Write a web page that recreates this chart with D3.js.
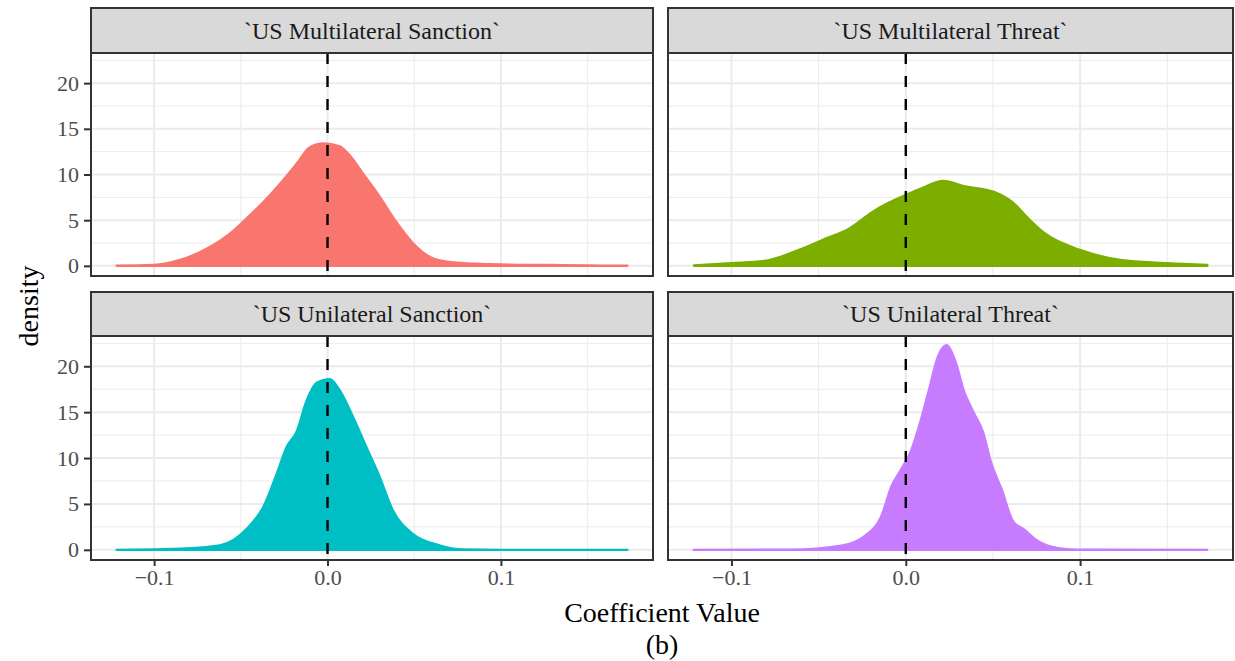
<!DOCTYPE html>
<html>
<head>
<meta charset="utf-8">
<script src="https://cdn.jsdelivr.net/npm/d3@7"></script>
<style>
  body { margin: 0; background: #fff; }
  svg text { font-family: "Liberation Serif", "Times New Roman", serif; }
</style>
</head>
<body>
<svg id="chart" width="1235" height="661"></svg>
<script>
// panel names, in facet order
const panels = ["`US Multilateral Sanction`", "`US Multilateral Threat`",
                "`US Unilateral Sanction`", "`US Unilateral Threat`"];
const fills = ["#F8766D", "#7CAE00", "#00BFC4", "#C77CFF"];

// density curves (coefficient value, density)
const msX = [-0.1217, -0.10, -0.085, -0.0695, -0.054, -0.045, -0.037, -0.0274, -0.0178, -0.0102, -0.0025, 0.007, 0.0128, 0.0205, 0.030, 0.0397, 0.0492, 0.0607, 0.074, 0.0933, 0.11, 0.13, 0.15, 0.173];
const msY = [0.02, 0.1, 0.65, 1.9, 3.9, 5.5, 7.0, 9.0, 11.2, 13.0, 13.4, 13.1, 12.1, 10.1, 7.6, 4.8, 2.5, 0.84, 0.36, 0.2, 0.12, 0.1, 0.05, 0.02];

const mtX = [-0.1215, -0.10, -0.080, -0.062, -0.047, -0.0323, -0.020, -0.010, 0.0, 0.009, 0.0215, 0.034, 0.0505, 0.061, 0.0713, 0.0795, 0.10, 0.123, 0.15, 0.173];
const mtY = [0.05, 0.3, 0.58, 1.7, 2.9, 4.1, 5.8, 6.9, 7.76, 8.5, 9.3, 8.7, 8.1, 7.0, 5.0, 3.6, 1.75, 0.66, 0.3, 0.1];

const usX = [-0.1217, -0.085, -0.062, -0.0466, -0.037, -0.0293, -0.0236, -0.0178, -0.012, -0.0063, 0.0013, 0.007, 0.0147, 0.0224, 0.030, 0.0377, 0.049, 0.0645, 0.078, 0.10, 0.173];
const usY = [0, 0.13, 0.5, 2.3, 4.7, 8.3, 11.2, 12.9, 16.3, 18.2, 18.6, 17.4, 14.5, 11.2, 8.0, 4.3, 1.77, 0.5, 0.05, 0, 0];

const utX = [-0.1217, -0.066, -0.037, -0.0237, -0.014, -0.0083, -0.0026, 0.0032, 0.007, 0.0128, 0.0185, 0.0233, 0.028, 0.0338, 0.0386, 0.0444, 0.049, 0.055, 0.0616, 0.068, 0.076, 0.0875, 0.097, 0.173];
const utY = [0, 0.02, 0.46, 1.5, 3.7, 6.9, 8.8, 10.9, 13.1, 17.1, 21.1, 22.3, 20.8, 17.1, 15.1, 12.8, 9.5, 6.6, 3.1, 2.2, 0.93, 0.18, 0.02, 0];

const xTicks = [-0.1, 0.0, 0.1];
const xMinor = [-0.05, 0.05, 0.15];
const yTicks = [0, 5, 10, 15, 20];
const yMinor = [2.5, 7.5, 12.5, 17.5, 22.5];
const refLine = 0;

const curves = [[msX, msY], [mtX, mtY], [usX, usY], [utX, utY]];

const svg = d3.select("#chart");

// layout
const cols = [[91, 653], [668, 1233]];
const rows = [{ strip: 8, top: 53, bottom: 276 }, { strip: 292, top: 336, bottom: 560 }];

const xDomain = [-0.1364, 0.1877];
const yDomain = [-1.11, 23.3];

panels.forEach((name, i) => {
    const c = cols[i % 2], r = rows[Math.floor(i / 2)];
    const x = d3.scaleLinear().domain(xDomain).range(c);
    const y = d3.scaleLinear().domain(yDomain).range([r.bottom, r.top]);
    const g = svg.append("g");

    // grid
    g.selectAll(".xmin").data(xMinor).join("line")
        .attr("x1", d => x(d)).attr("x2", d => x(d))
        .attr("y1", r.top).attr("y2", r.bottom)
        .attr("stroke", "#EBEBEB").attr("stroke-width", 1);
    g.selectAll(".ymin").data(yMinor).join("line")
        .attr("x1", c[0]).attr("x2", c[1])
        .attr("y1", d => y(d)).attr("y2", d => y(d))
        .attr("stroke", "#EBEBEB").attr("stroke-width", 1);
    g.selectAll(".xmaj").data(xTicks).join("line")
        .attr("x1", d => x(d)).attr("x2", d => x(d))
        .attr("y1", r.top).attr("y2", r.bottom)
        .attr("stroke", "#EBEBEB").attr("stroke-width", 2);
    g.selectAll(".ymaj").data(yTicks).join("line")
        .attr("x1", c[0]).attr("x2", c[1])
        .attr("y1", d => y(d)).attr("y2", d => y(d))
        .attr("stroke", "#EBEBEB").attr("stroke-width", 2);

    // density
    const pts = curves[i][0].map((v, k) => [v, curves[i][1][k]]);
    const area = d3.area()
        .x(d => x(d[0])).y0(y(0)).y1(d => y(d[1]))
        .curve(d3.curveMonotoneX);
    g.append("path").datum(pts)
        .attr("d", area)
        .attr("fill", fills[i])
        .attr("stroke", fills[i])
        .attr("stroke-width", 2.2)
        .attr("stroke-linejoin", "round")
        .attr("stroke-linecap", "round");

    // reference line
    g.append("line")
        .attr("x1", x(refLine)).attr("x2", x(refLine))
        .attr("y1", r.top).attr("y2", r.bottom)
        .attr("stroke", "#000").attr("stroke-width", 2.4)
        .attr("stroke-dasharray", "11,12");

    // border
    g.append("rect")
        .attr("x", c[0]).attr("y", r.top)
        .attr("width", c[1] - c[0]).attr("height", r.bottom - r.top)
        .attr("fill", "none").attr("stroke", "#333333").attr("stroke-width", 2);

    // strip
    g.append("rect")
        .attr("x", c[0]).attr("y", r.strip)
        .attr("width", c[1] - c[0]).attr("height", r.top - r.strip)
        .attr("fill", "#D9D9D9").attr("stroke", "#333333").attr("stroke-width", 2);
    g.append("text")
        .attr("x", (c[0] + c[1]) / 2).attr("y", (r.strip + r.top) / 2)
        .attr("text-anchor", "middle").attr("dominant-baseline", "central")
        .attr("fill", "#1A1A1A").style("font-size", "24px")
        .text(name);

    // y axis on left column
    if (i % 2 == 0) {
        const ya = g.append("g").attr("transform", "translate(" + c[0] + ",0)")
            .call(d3.axisLeft(y).tickValues(yTicks).tickSize(7).tickPadding(5).tickFormat(d3.format("d")));
        ya.select(".domain").remove();
        ya.selectAll("line").attr("stroke", "#333333").attr("stroke-width", 2);
        ya.selectAll("text").attr("fill", "#4D4D4D").style("font-size", "22px")
            .style("font-family", "Liberation Serif");
    }
    // x axis on bottom row
    if (i >= 2) {
        const xa = g.append("g").attr("transform", "translate(0," + r.bottom + ")")
            .call(d3.axisBottom(x).tickValues(xTicks).tickSize(6).tickPadding(3)
                .tickFormat(d => d3.format(".1f")(d).replace("-", "\u2212")));
        xa.select(".domain").remove();
        xa.selectAll("line").attr("stroke", "#333333").attr("stroke-width", 2);
        xa.selectAll("text").attr("fill", "#4D4D4D").style("font-size", "22px")
            .style("font-family", "Liberation Serif");
    }
});

// axis titles
svg.append("text")
    .attr("transform", "translate(38,306) rotate(-90)")
    .attr("text-anchor", "middle")
    .style("font-size", "28px")
    .text("density");

svg.append("text")
    .attr("x", 662).attr("y", 622)
    .attr("text-anchor", "middle")
    .style("font-size", "28px")
    .text("Coefficient Value");

svg.append("text")
    .attr("x", 662).attr("y", 654)
    .attr("text-anchor", "middle")
    .style("font-size", "28px")
    .text("(b)");
</script>
</body>
</html>
